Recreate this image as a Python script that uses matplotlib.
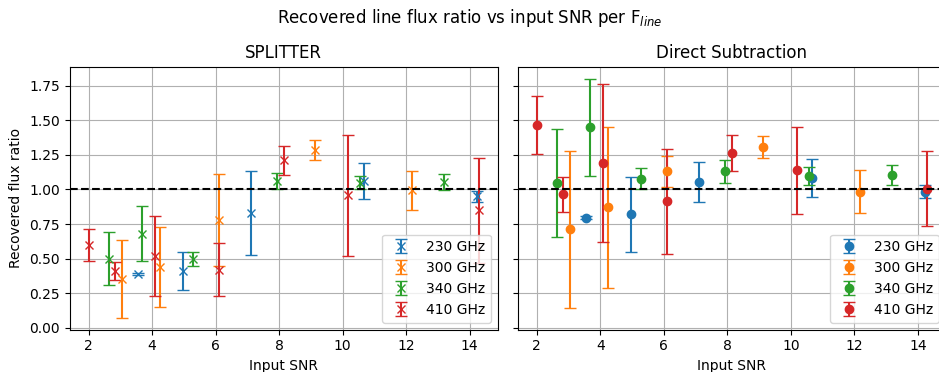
import numpy as np
import matplotlib
matplotlib.use("Agg")
import matplotlib.pyplot as plt

# input SNR per frequency
freqs = ["230 GHz", "300 GHz", "340 GHz", "410 GHz"]
snr_230 = [3.55, 4.97, 7.10, 10.66, 14.22]
snr_300 = [3.04, 4.25, 6.09, 9.12, 12.18]
snr_340 = [2.63, 3.68, 5.29, 7.92, 10.56, 13.20]
snr_410 = [2.01, 2.83, 4.09, 6.11, 8.14, 10.18, 14.28]

# SPLITTER ratios / errors
spl_230 = [0.39, 0.41, 0.83, 1.06, 0.95]
spl_230_err = [0.01, 0.135, 0.30, 0.13, 0.04]
spl_300 = [0.355, 0.44, 0.78, 1.285, 0.995]
spl_300_err = [0.28, 0.29, 0.335, 0.075, 0.14]
spl_340 = [0.50, 0.68, 0.50, 1.06, 1.05, 1.055]
spl_340_err = [0.19, 0.20, 0.05, 0.06, 0.05, 0.06]
spl_410 = [0.60, 0.41, 0.52, 0.42, 1.21, 0.957, 0.85]
spl_410_err = [0.115, 0.065, 0.29, 0.19, 0.105, 0.435, 0.38]

# Direct subtraction ratios / errors
ds_230 = [0.795, 0.82, 1.053, 1.082, 0.983]
ds_230_err = [0.01, 0.27, 0.145, 0.137, 0.048]
ds_300 = [0.712, 0.872, 1.13, 1.307, 0.983]
ds_300_err = [0.565, 0.58, 0.115, 0.08, 0.155]
ds_340 = [1.046, 1.45, 1.077, 1.13, 1.097, 1.104]
ds_340_err = [0.39, 0.35, 0.075, 0.08, 0.067, 0.07]
ds_410 = [1.466, 0.964, 1.193, 0.913, 1.263, 1.138, 1.005]
ds_410_err = [0.21, 0.125, 0.57, 0.38, 0.133, 0.315, 0.27]

snr_all = [snr_230, snr_300, snr_340, snr_410]
spl_all = [(spl_230, spl_230_err), (spl_300, spl_300_err),
           (spl_340, spl_340_err), (spl_410, spl_410_err)]
ds_all = [(ds_230, ds_230_err), (ds_300, ds_300_err),
          (ds_340, ds_340_err), (ds_410, ds_410_err)]
colors = ["tab:blue", "tab:orange", "tab:green", "tab:red"]

fig, (ax1, ax2) = plt.subplots(1, 2, figsize=(9.39, 3.72), dpi=100, sharey=True)
W, H = 939, 372
ax1.set_position([69.5 / W, (H - 329.5) / H, 428.5 / W, 262.8 / H])
ax2.set_position([517.7 / W, (H - 329.5) / H, 428.5 / W, 262.8 / H])

for ax, data, fmt, title in [(ax1, spl_all, "x", "SPLITTER"),
                             (ax2, ds_all, "o", "Direct Subtraction")]:
    for snr, (val, err), c, lab in zip(snr_all, data, colors, freqs):
        ax.errorbar(snr, val, yerr=err, fmt=fmt, color=c, capsize=4, label=lab)
    # reference line sits on top of the points
    ax.axhline(1.0, color="k", linestyle="--", lw=1.5, zorder=3)
    ax.grid(True)
    ax.set_axisbelow(True)
    ax.set_title(title)
    ax.set_xlabel("Input SNR")
    ax.legend(loc="lower right")

ax1.set_ylabel("Recovered flux ratio")
fig.suptitle("Recovered line flux ratio vs input SNR per F$_{line}$")

fig.savefig("out.png", dpi=100)
